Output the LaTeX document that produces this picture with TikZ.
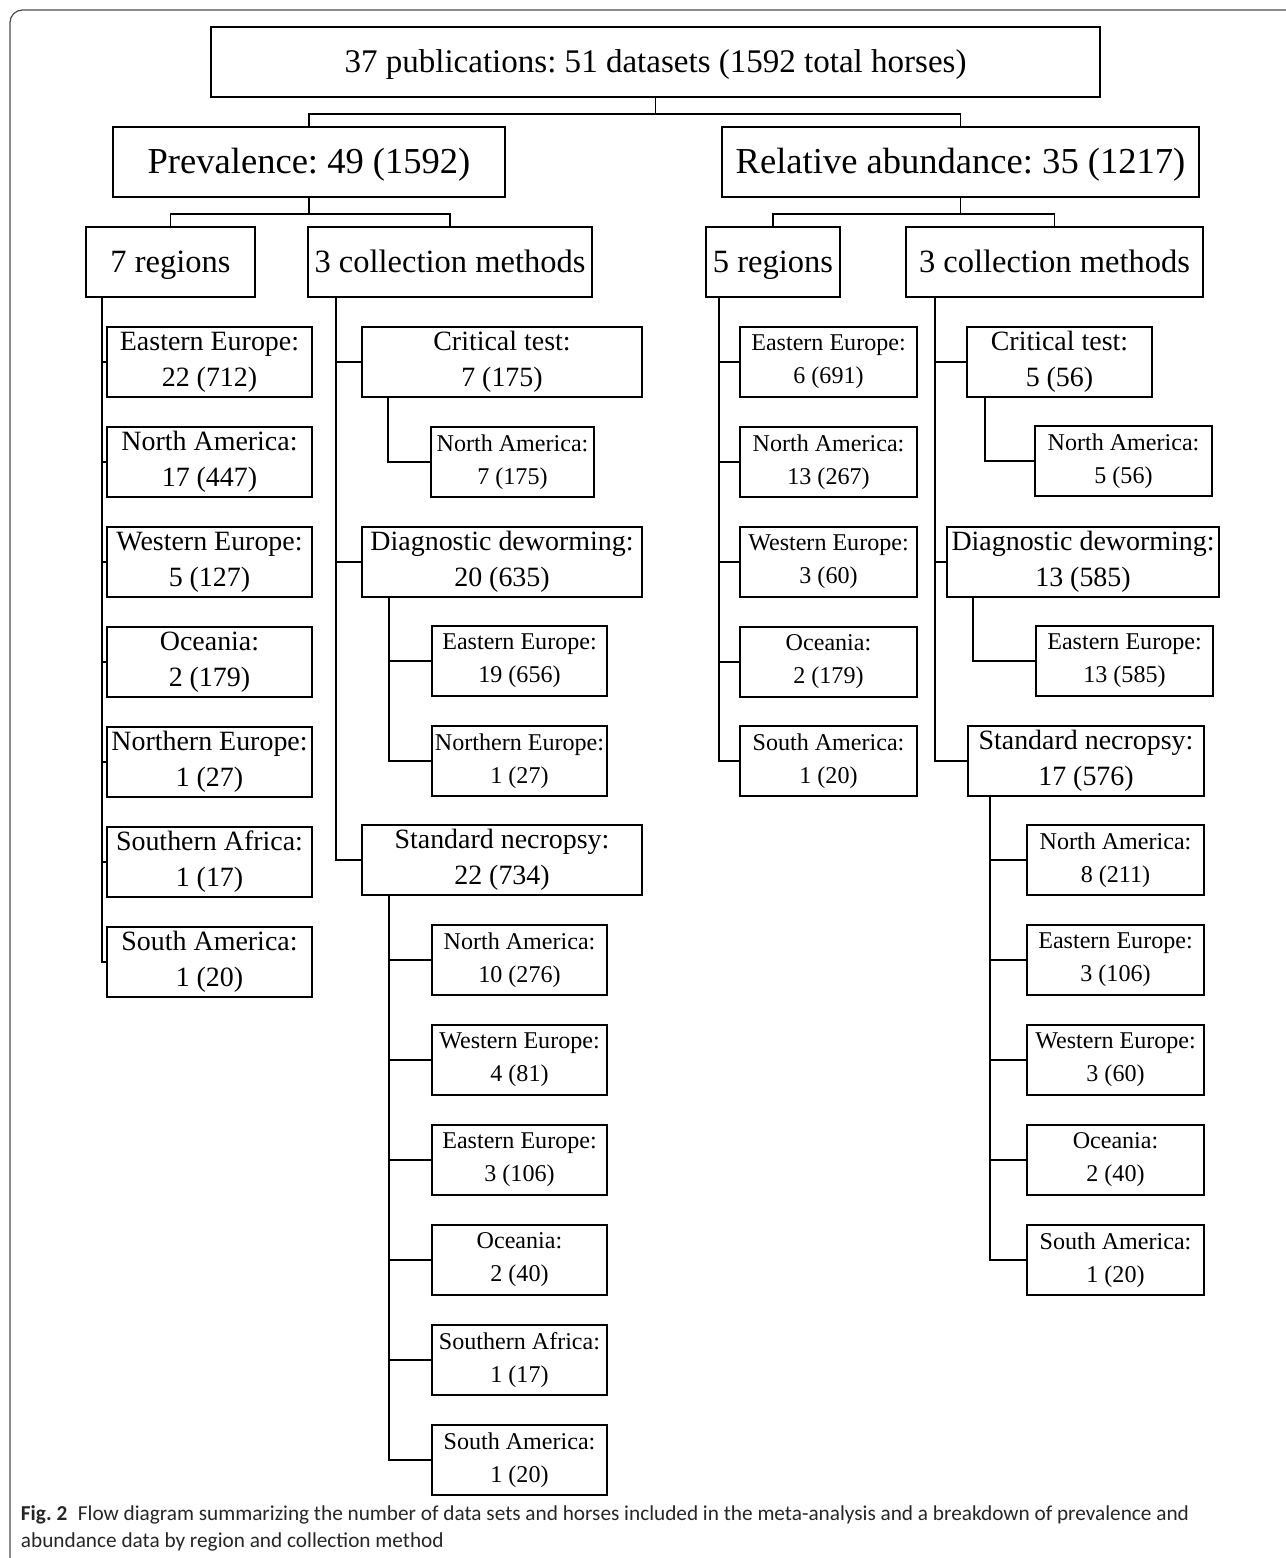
\documentclass[tikz,border=0pt]{standalone}
\usepackage{fontspec}
\setmainfont{Liberation Serif}
\setsansfont{Carlito}
\frenchspacing

\tikzset{
  box/.style={draw, line width=1.1pt, inner sep=0pt, align=center, minimum height=1.4cm},
  wd/.style={minimum width=#1*0.02cm},
  topbox/.style={box, font=\fontsize{18.8}{23}\selectfont, text height=14.5pt, text depth=3pt},
  groupbox/.style={box, font=\fontsize{20.8}{24}\selectfont, text height=16pt, text depth=3.4pt},
  splitbox/.style={box, font=\fontsize{18.5}{22}\selectfont, text height=15pt, text depth=3.6pt},
  midbox/.style={box, font=\fontsize{15.9}{20.5}\selectfont},
  subbox/.style={box, font=\fontsize{13.7}{18.8}\selectfont},
}

\begin{document}
\begin{tikzpicture}[x=0.02cm, y=-0.02cm, line width=1.1pt]
\useasboundingbox (0,0) rectangle (1285,1558);
\draw[line width=0.7pt, black!70, rounded corners=0.25cm] (10,1600) -- (10,10) -- (1330,10);

\draw (655.5,62) node (top) [topbox, wd=889] {37 publications: 51 datasets (1592 total horses)};

\draw (309,162)   node (prev) [groupbox, wd=392] {Prevalence: 49 (1592)};
\draw (960.5,162) node (rel)  [groupbox, wd=477] {Relative abundance: 35 (1217)};
\draw (top.south) -- ++(0,16) -| (prev.north);
\draw (top.south) -- ++(0,16) -| (rel.north);

\draw (170.5,262)  node (reg7)  [splitbox, wd=169] {7 regions};
\draw (450,262)    node (meth7) [splitbox, wd=284] {3 collection methods};
\draw (773,262)    node (reg5)  [splitbox, wd=134] {5 regions};
\draw (1054.5,262) node (meth5) [splitbox, wd=297] {3 collection methods};
\draw (prev.south) -- ++(0,16) -| (reg7.north);
\draw (prev.south) -- ++(0,16) -| (meth7.north);
\draw (rel.south) -- ++(0,16) -| (reg5.north);
\draw (rel.south) -- ++(0,16) -| (meth5.north);

\draw (209.5,362) node (pEE)  [midbox, wd=205] {Eastern Europe:\\22 (712)};
\draw (209.5,462) node (pNA)  [midbox, wd=205] {North America:\\17 (447)};
\draw (209.5,562) node (pWE)  [midbox, wd=205] {Western Europe:\\5 (127)};
\draw (209.5,662) node (pOc)  [midbox, wd=205] {Oceania:\\2 (179)};
\draw (209.5,762) node (pNE)  [midbox, wd=205] {Northern Europe:\\1 (27)};
\draw (209.5,862) node (pSAf) [midbox, wd=205] {Southern Africa:\\1 (17)};
\draw (209.5,962) node (pSAm) [midbox, wd=205] {South America:\\1 (20)};
\foreach \n in {pEE,pNA,pWE,pOc,pNE,pSAf,pSAm}
  \draw (reg7.south west) ++(17,0) |- (\n.west);

\draw (502,362) node (pCT) [midbox, wd=280] {Critical test:\\7 (175)};
\draw (502,562) node (pDD) [midbox, wd=280] {Diagnostic deworming:\\20 (635)};
\draw (502,860) node (pSN) [midbox, wd=280] {Standard necropsy:\\22 (734)};
\foreach \n in {pCT,pDD,pSN}
  \draw (meth7.south west) ++(29,0) |- (\n.west);

\draw (512.5,462) node (pCTna) [subbox, wd=163] {North America:\\7 (175)};
\draw (pCT.south west) ++(27,0) |- (pCTna.west);

\draw (519.5,661) node (pDDee) [subbox, wd=175] {Eastern Europe:\\19 (656)};
\draw (519.5,761) node (pDDne) [subbox, wd=175] {Northern Europe:\\1 (27)};
\foreach \n in {pDDee,pDDne}
  \draw (pDD.south west) ++(28,0) |- (\n.west);

\draw (519.5,960)  node (pSNna)  [subbox, wd=175] {North America:\\10 (276)};
\draw (519.5,1060) node (pSNwe)  [subbox, wd=175] {Western Europe:\\4 (81)};
\draw (519.5,1160) node (pSNee)  [subbox, wd=175] {Eastern Europe:\\3 (106)};
\draw (519.5,1260) node (pSNoc)  [subbox, wd=175] {Oceania:\\2 (40)};
\draw (519.5,1360) node (pSNsaf) [subbox, wd=175] {Southern Africa:\\1 (17)};
\draw (519.5,1460) node (pSNsam) [subbox, wd=175] {South America:\\1 (20)};
\foreach \n in {pSNna,pSNwe,pSNee,pSNoc,pSNsaf,pSNsam}
  \draw (pSN.south west) ++(28,0) |- (\n.west);

\draw (828.5,362) node (aEE)  [subbox, wd=177] {Eastern Europe:\\6 (691)};
\draw (828.5,462) node (aNA)  [subbox, wd=177] {North America:\\13 (267)};
\draw (828.5,562) node (aWE)  [subbox, wd=177] {Western Europe:\\3 (60)};
\draw (828.5,662) node (aOc)  [subbox, wd=177] {Oceania:\\2 (179)};
\draw (828.5,761) node (aSAm) [subbox, wd=177] {South America:\\1 (20)};
\foreach \n in {aEE,aNA,aWE,aOc,aSAm}
  \draw (reg5.south west) ++(14,0) |- (\n.west);

\draw (1059.5,362) node (aCT) [midbox, wd=185] {Critical test:\\5 (56)};
\draw (1083,562)   node (aDD) [midbox, wd=272] {Diagnostic deworming:\\13 (585)};
\draw (1086,761)   node (aSN) [midbox, wd=236] {Standard necropsy:\\17 (576)};
\foreach \n in {aCT,aDD,aSN}
  \draw (meth5.south west) ++(30,0) |- (\n.west);

\draw (1123.5,461) node (aCTna) [subbox, wd=177] {North America:\\5 (56)};
\draw (aCT.south west) ++(19,0) |- (aCTna.west);

\draw (1124.5,661) node (aDDee) [subbox, wd=177] {Eastern Europe:\\13 (585)};
\draw (aDD.south west) ++(27,0) |- (aDDee.west);

\draw (1115.5,860)  node (aSNna)  [subbox, wd=177] {North America:\\8 (211)};
\draw (1115.5,960)  node (aSNee)  [subbox, wd=177] {Eastern Europe:\\3 (106)};
\draw (1115.5,1060) node (aSNwe)  [subbox, wd=177] {Western Europe:\\3 (60)};
\draw (1115.5,1160) node (aSNoc)  [subbox, wd=177] {Oceania:\\2 (40)};
\draw (1115.5,1260) node (aSNsam) [subbox, wd=177] {South America:\\1 (20)};
\foreach \n in {aSNna,aSNee,aSNwe,aSNoc,aSNsam}
  \draw (aSN.south west) ++(23,0) |- (\n.west);

\draw (20,1505) node (cap) [anchor=north west, align=left, inner sep=0pt, text=black!85,
  font=\sffamily\fontsize{12.1}{15}\selectfont]
  {\textbf{Fig. 2}\enspace Flow diagram summarizing the number of data sets and horses included in the meta-analysis and a breakdown of prevalence and\\abundance data by region and collection method};
\end{tikzpicture}
\end{document}
